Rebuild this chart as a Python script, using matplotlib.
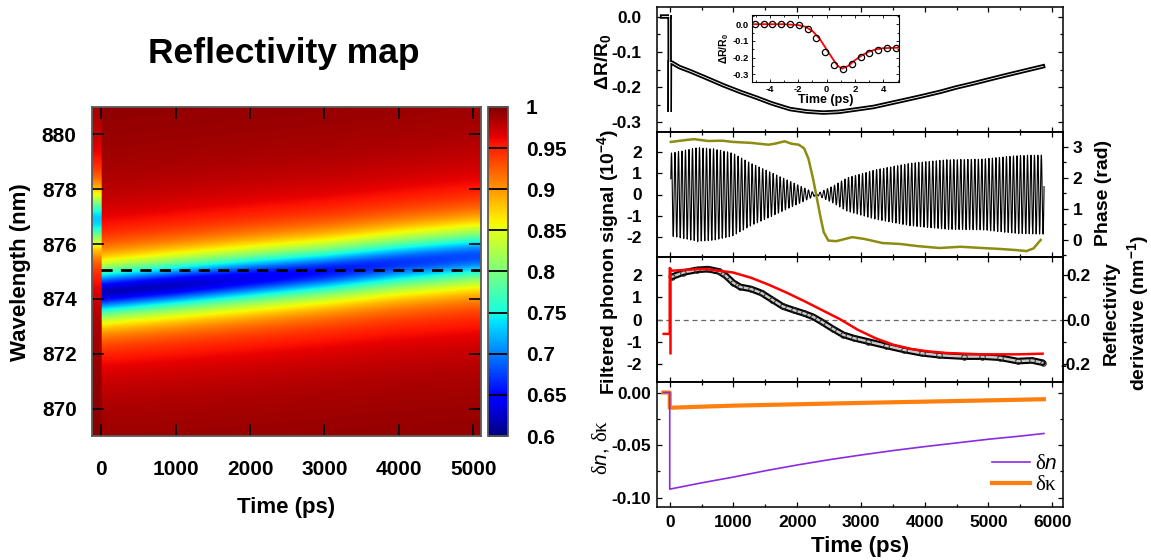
import numpy as np
import matplotlib
matplotlib.use('Agg')
import matplotlib.pyplot as plt
from matplotlib.ticker import MultipleLocator, FormatStrFormatter, FuncFormatter

plt.rcParams['font.family'] = ['Liberation Sans', 'DejaVu Sans']
plt.rcParams['font.weight'] = 'bold'
plt.rcParams['axes.labelweight'] = 'bold'
plt.rcParams['axes.unicode_minus'] = False
plt.rcParams['mathtext.fontset'] = 'custom'
plt.rcParams['mathtext.rm'] = 'Liberation Serif:weight=normal'
plt.rcParams['mathtext.it'] = 'Liberation Sans:style=italic:weight=normal'
plt.rcParams['mathtext.bf'] = 'Liberation Sans:weight=bold'

# ---- reflectivity map: resonance dip parameters vs time ----
map_time = [0, 1000, 2000, 3000, 4000, 5000]
dip_center = [874.25, 874.5, 874.75, 875.0, 875.3, 875.55]
dip_depth = [0.38, 0.375, 0.36, 0.345, 0.33, 0.32]
dip_gamma = [0.9, 0.92, 0.95, 0.97, 1.0, 1.03]
pre_center, pre_depth, pre_gamma = 876.9, 0.27, 1.0   # before pump (t < 0)
probe_wavelength = 875.05

# ---- dR/R0 transient ----
dr_time = [-120, -5, -2, 0, 3, 37, 150, 324, 600, 845, 1100, 1366, 1600, 1887, 2150, 2407,
           2650, 2928, 3200, 3449, 3700, 3970, 4250, 4491, 4750, 5012, 5280, 5533, 5856]
dr_vals = [0.0, 0.0, 0.004, -0.27, -0.13, -0.131, -0.143, -0.155, -0.176, -0.195, -0.213,
           -0.230, -0.246, -0.262, -0.269, -0.272, -0.270, -0.263, -0.256, -0.246, -0.236,
           -0.225, -0.213, -0.201, -0.190, -0.178, -0.166, -0.155, -0.141]

# inset: first picoseconds
inset_time = [-5.05, -4.43, -3.81, -3.19, -2.57, -1.95, -1.33, -0.71, -0.09, 0.53, 1.15,
              1.77, 2.39, 3.01, 3.63, 4.25, 4.87]
inset_vals = [0.0, 0.0, 0.0, 0.0, 0.0, -0.004, -0.028, -0.08, -0.166, -0.242, -0.266,
              -0.238, -0.198, -0.17, -0.152, -0.144, -0.142]
fit_time = [-5.25, -3.0, -2.0, -1.5, -1.0, -0.5, 0.0, 0.5, 0.8, 1.1, 1.5, 2.0, 2.5, 3.0,
            3.5, 4.0, 5.1]
fit_vals = [0.0, 0.0, -0.005, -0.015, -0.04, -0.085, -0.15, -0.215, -0.25, -0.265, -0.25,
            -0.215, -0.185, -0.163, -0.15, -0.143, -0.14]

# ---- phonon oscillation: envelope and phase ----
osc_period = 55.0
env_time = [17, 435, 700, 990, 1270, 1550, 1830, 2110, 2305, 2556, 2780, 3225, 3783, 4062,
            4342, 4900, 5458, 5875]
env_amp = [1.94, 2.2, 2.14, 1.94, 1.47, 1.09, 0.7, 0.31, 0.03, 0.39, 0.78, 1.16, 1.47, 1.55,
           1.63, 1.66, 1.83, 1.86]
phase_time = [17, 212, 379, 603, 826, 993, 1272, 1551, 1663, 1802, 1914, 2026, 2109, 2176,
              2249, 2305, 2360, 2416, 2489, 2612, 2863, 3058, 3337, 3616, 3895, 4230, 4565,
              4900, 5179, 5458, 5597, 5709, 5820]
phase_vals = [3.16, 3.21, 3.25, 3.19, 3.2, 3.16, 3.13, 3.07, 3.11, 3.18, 3.1, 3.07, 2.95,
              2.62, 1.97, 1.38, 0.79, 0.25, -0.02, -0.04, 0.09, 0.03, -0.1, -0.13, -0.2,
              -0.26, -0.22, -0.26, -0.29, -0.33, -0.36, -0.27, 0.0]

# ---- filtered phonon signal and reflectivity derivative ----
filt_time = [33, 212, 435, 603, 770, 882, 993, 1105, 1272, 1440, 1607, 1775, 1942, 2109,
             2249, 2388, 2556, 2723, 2891, 3114, 3393, 3672, 3951, 4230, 4621, 4900, 5179,
             5458, 5681, 5850]
filt_vals = [1.9, 2.09, 2.21, 2.24, 2.14, 1.94, 1.64, 1.45, 1.36, 1.18, 0.88, 0.58, 0.42,
             0.27, 0.12, -0.11, -0.41, -0.68, -0.83, -0.98, -1.17, -1.35, -1.5, -1.59, -1.65,
             -1.65, -1.7, -1.85, -1.82, -1.92]
deriv_time = [-95, 0, 0, 33, 435, 547, 993, 1272, 1551, 1830, 2109, 2388, 2667, 2946,
              3225, 3504, 3783, 4062, 4342, 4900, 5458, 5850]
deriv_vals = [-0.064, -0.064, 0.229, 0.217, 0.224, 0.225, 0.209, 0.186, 0.155, 0.12, 0.082,
              0.042, 0.002, -0.045, -0.083, -0.112, -0.131, -0.142, -0.149, -0.155,
              -0.155, -0.152]
deriv_spike = (-0.155, 0.229)

# ---- refractive index changes ----
dn_time = [-100, 0, 0, 500, 1000, 1500, 2000, 2500, 3000, 3500, 4000, 4500, 5000, 5500, 5870]
dn_vals = [0.0, 0.0, -0.092, -0.086, -0.0805, -0.0745, -0.069, -0.064, -0.0595, -0.0553,
           -0.0515, -0.048, -0.0445, -0.0415, -0.039]
dk_time = [-100, 0, 0, 1000, 2000, 3000, 4000, 5000, 5870]
dk_vals = [0.0, 0.0, -0.0145, -0.0125, -0.0112, -0.0099, -0.0087, -0.0075, -0.0064]

W, H = 1151, 560
fig = plt.figure(figsize=(W / 100, H / 100), dpi=100)


def fx(px):
    return px / W


def fy(py):
    return 1 - py / H


# ================= left: reflectivity map =================
axm = fig.add_axes([fx(92), fy(436), fx(481 - 92), fy(107) - fy(436)])
t_grid = np.linspace(-125, 5105, 800)
wl_grid = np.linspace(869, 881, 500)
after = t_grid >= 0
c = np.where(after, np.interp(t_grid, map_time, dip_center), pre_center)
d = np.where(after, np.interp(t_grid, map_time, dip_depth), pre_depth)
g = np.where(after, np.interp(t_grid, map_time, dip_gamma), pre_gamma)
refl = 1 - d[None, :] / (1 + ((wl_grid[:, None] - c[None, :]) / g[None, :]) ** 2)
im = axm.imshow(refl, cmap='jet', vmin=0.6, vmax=1.0, origin='lower', aspect='auto',
                extent=[-125, 5105, 869, 881], interpolation='bilinear')
axm.hlines(probe_wavelength, 0, 5105, colors='black', linestyles=(0, (4, 3)), lw=2.0)
axm.set_xlim(-125, 5105)
axm.set_ylim(869, 881)
axm.set_xticks([0, 1000, 2000, 3000, 4000, 5000])
axm.set_yticks([870, 872, 874, 876, 878, 880])
axm.tick_params(direction='in', top=True, right=True, length=8.5, width=1.2,
                labelsize=15, color='black')
axm.tick_params(axis='x', pad=17)
axm.tick_params(axis='y', pad=11)
for s in axm.spines.values():
    s.set_color('#5a5a5a')
    s.set_linewidth(1.3)

fig.text(fx(284), fy(54), 'Reflectivity map', fontsize=25.5, ha='center', va='center')
fig.text(fx(286), fy(507), 'Time (ps)', fontsize=16, ha='center', va='center')
fig.text(fx(21), fy(272), 'Wavelength (nm)', fontsize=16, ha='center', va='center',
         rotation=90)

cax = fig.add_axes([fx(488), fy(436), fx(20), fy(107) - fy(436)])
cb = fig.colorbar(im, cax=cax, ticks=np.arange(0.6, 1.001, 0.05))
cb.ax.yaxis.set_major_formatter(FuncFormatter(lambda v, p: f'{v:.2f}'.rstrip('0').rstrip('.')))
cb.ax.tick_params(direction='in', length=14.5, width=1.3, color='black', labelsize=15, pad=13)
cb.outline.set_edgecolor('#5a5a5a')
cb.outline.set_linewidth(1.3)

# ================= right: stacked panels =================
left, right = fx(657), fx(1063)
edges = [7, 132, 257, 382, 507]
axes = []
for i in range(4):
    a = fig.add_axes([left, fy(edges[i + 1]), right - left, fy(edges[i]) - fy(edges[i + 1])])
    axes.append(a)
ax1, ax2, ax3, ax4 = axes

for a in axes:
    a.set_xlim(-200, 6170)
    a.xaxis.set_major_locator(MultipleLocator(1000))
    a.xaxis.set_minor_locator(MultipleLocator(500))
    a.tick_params(which='both', direction='in', top=True, labelsize=12.5, width=0.9)
    a.tick_params(which='major', length=3.8)
    a.tick_params(which='minor', length=2.4)
    a.tick_params(axis='y', pad=11)
    for s in a.spines.values():
        s.set_linewidth(1.1)
    if a is not ax4:
        a.tick_params(axis='x', labelbottom=False)
ax4.tick_params(axis='x', pad=6)
ax4.tick_params(axis='y', pad=4.5)

# panel 1: dR/R0
ax1.plot(dr_time, dr_vals, color='black', lw=3.2, solid_joinstyle='miter')
ax1.plot(dr_time, dr_vals, color='white', lw=0.6)
ax1.set_ylim(-0.327, 0.027)
ax1.yaxis.set_major_locator(MultipleLocator(0.1))
ax1.yaxis.set_minor_locator(MultipleLocator(0.05))
ax1.yaxis.set_major_formatter(FormatStrFormatter('%.1f'))
ax1.tick_params(which='both', right=True)
fig.text(fx(603), fy(62), r'$\mathbf{\Delta R/R_0}$', fontsize=14, ha='center',
         va='center', rotation=90)

ins = fig.add_axes([fx(752), fy(82), fx(147), fy(15) - fy(82)])
ins.plot(fit_time, fit_vals, color='red', lw=1.3)
ins.plot(inset_time, inset_vals, 'o', mfc='none', mec='black', ms=4.5, mew=0.9)
ins.set_xlim(-5.25, 5.1)
ins.set_ylim(-0.345, 0.055)
ins.set_xticks([-4, -2, 0, 2, 4])
ins.xaxis.set_minor_locator(MultipleLocator(1))
ins.yaxis.set_major_locator(MultipleLocator(0.1))
ins.yaxis.set_minor_locator(MultipleLocator(0.05))
ins.yaxis.set_major_formatter(FormatStrFormatter('%.1f'))
ins.tick_params(which='both', direction='in', top=True, right=True, labelsize=6.8,
                width=0.6, pad=2)
ins.tick_params(which='major', length=2.5)
ins.tick_params(which='minor', length=1.5)
for s in ins.spines.values():
    s.set_linewidth(0.8)
ins.set_xlabel('Time (ps)', fontsize=9, labelpad=0)
ins.set_ylabel(r'$\mathbf{\Delta R/R_0}$', fontsize=7.5, labelpad=1)

# panel 2: phonon signal and phase
osc_t = np.arange(env_time[0], env_time[-1], 2.0)
envelope = np.interp(osc_t, env_time, env_amp)
phase = np.interp(osc_t, phase_time, phase_vals)
ax2.plot(osc_t, envelope * np.cos(2 * np.pi * osc_t / osc_period + phase),
         color='black', lw=0.8)
ax2.set_ylim(-2.93, 2.93)
ax2.set_yticks([-2, -1, 0, 1, 2])
ax2r = ax2.twinx()
ax2r.plot(phase_time, phase_vals, color='#8c8c10', lw=1.8)
ax2r.set_ylim(-0.55, 3.48)
ax2r.set_yticks([0, 1, 2, 3])
ax2r.yaxis.set_minor_locator(MultipleLocator(0.5))
ax2r.tick_params(which='both', direction='out', labelsize=12.5, width=0.9, pad=3)
ax2r.tick_params(which='major', length=3.8)
ax2r.tick_params(which='minor', length=2.4)
for s in ax2r.spines.values():
    s.set_linewidth(1.1)

# panel 3: filtered signal and reflectivity derivative
ax3.axhline(0, color='#666666', lw=0.9, ls=(0, (4, 3)))
ax3.plot(filt_time, filt_vals, color='black', lw=4.8, solid_capstyle='round')
ax3.plot(filt_time, filt_vals, color='#c8c8c8', lw=1.8, solid_capstyle='round')
ax3.plot(filt_time, filt_vals, 'o', mfc='none', mec='#222222', ms=4.0, mew=0.7)
ax3.set_ylim(-2.78, 2.78)
ax3.set_yticks([-2, -1, 0, 1, 2])
ax3r = ax3.twinx()
ax3r.plot(deriv_time, deriv_vals, color='red', lw=1.8)
ax3r.vlines(0, deriv_spike[0], deriv_spike[1], color='red', lw=1.8)
ax3r.set_ylim(-0.278, 0.278)
ax3r.set_yticks([-0.2, 0.0, 0.2])
ax3r.yaxis.set_minor_locator(MultipleLocator(0.1))
ax3r.yaxis.set_major_formatter(FormatStrFormatter('%.1f'))
ax3r.tick_params(which='both', direction='out', labelsize=12.5, width=0.9, pad=16)
ax3r.tick_params(which='major', length=3.8)
ax3r.tick_params(which='minor', length=2.4)
for lbl in ax3r.get_yticklabels():
    lbl.set_horizontalalignment('right')
for s in ax3r.spines.values():
    s.set_linewidth(1.1)

fig.text(fx(608), fy(262), r'Filtered phonon signal ($\mathbf{10^{-4}}$)', fontsize=14,
         ha='center', va='center', rotation=90)
fig.text(fx(1103), fy(193), 'Phase (rad)', fontsize=14, ha='center', va='center',
         rotation=90)
fig.text(fx(1127), fy(313), 'Reflectivity\n' + r'derivative ($\mathbf{nm^{-1}}$)',
         fontsize=14, ha='center', va='center', rotation=90, linespacing=1.3)

# panel 4: dn and dk
ax4.plot(dk_time, dk_vals, color='#ff7f0e', lw=3.0, label=r'$\mathrm{\delta\kappa}$')
ax4.plot(dn_time, dn_vals, color='#8a2be2', lw=1.2, label=r'$\mathrm{\delta}n$', zorder=3)
ax4.set_ylim(-0.109, 0.010)
ax4.yaxis.set_major_locator(MultipleLocator(0.05))
ax4.yaxis.set_minor_locator(MultipleLocator(0.025))
ax4.yaxis.set_major_formatter(FormatStrFormatter('%.2f'))
ax4.tick_params(which='both', right=True)
h, l = ax4.get_legend_handles_labels()
ax4.legend(h[::-1], l[::-1], loc='lower right', frameon=False, fontsize=15,
           handlelength=1.8, handletextpad=0.25, labelspacing=0.1,
           bbox_to_anchor=(1.032, -0.05))
ax4.set_xlabel('Time (ps)', fontsize=16, labelpad=4)
fig.text(fx(601), fy(447), r'$\mathrm{\delta}n$, $\mathrm{\delta\kappa}$', fontsize=15,
         ha='center', va='center', rotation=90, fontweight='normal')

fig.savefig('out.png', dpi=100)
